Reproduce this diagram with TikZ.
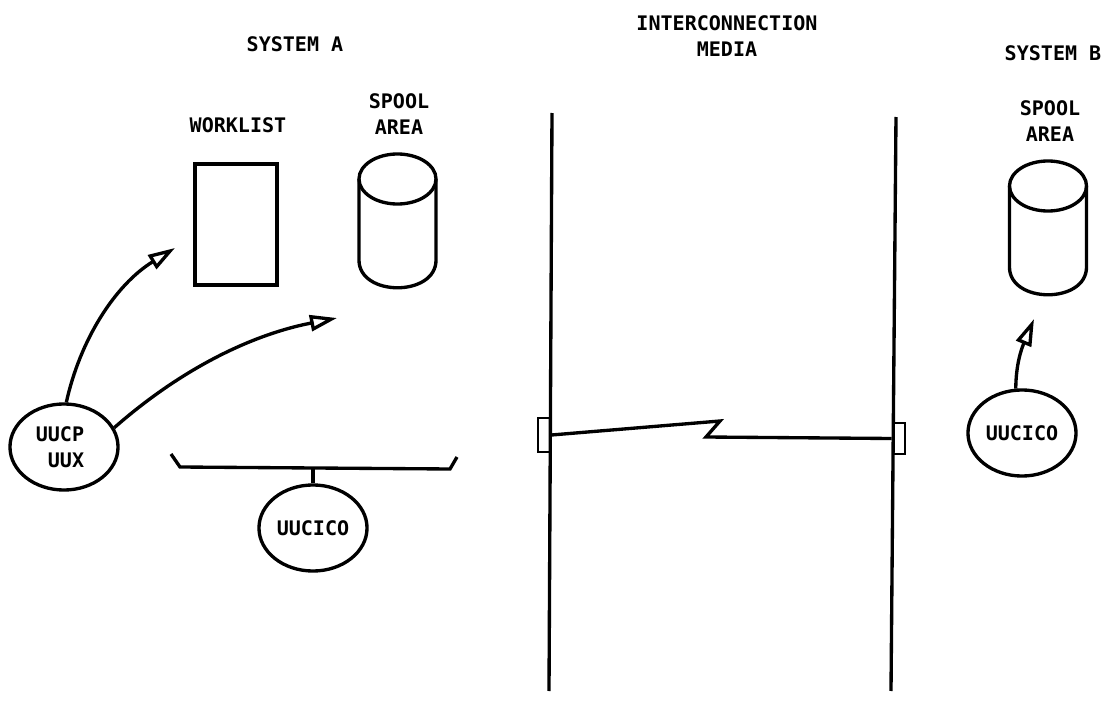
\documentclass[tikz,border=0pt]{standalone}
\usepackage{fontspec}
\setmonofont{DejaVu Sans Mono}
\usetikzlibrary{arrows.meta,positioning,shapes.geometric}
\begin{document}
\begin{tikzpicture}[x=0.01cm,y=-0.01cm,line width=0.95pt,font=\ttfamily\bfseries\fontsize{5.7}{7.5}\selectfont,
  lbl/.style={align=center,inner sep=0pt},
  proc/.style={draw,ellipse,inner sep=0pt,minimum width=1.08cm,minimum height=0.86cm,align=center},
  disktop/.style={draw,ellipse,inner sep=0pt,outer sep=0pt,minimum width=0.77cm,minimum height=0.5cm},
  arr/.style={-{Triangle[open,fill=white,length=2.7mm,width=1.6mm]}}]
  \useasboundingbox (0,0) rectangle (1105,721);
  \node[lbl](sysa) at (295,44){SYSTEM A};
  \node[lbl](media) at (727,36){INTERCONNECTION\\MEDIA};
  \node[lbl](sysb) at (1053,53){SYSTEM B};
  \node[lbl](wl) at (238,125){WORKLIST};
  \node[lbl](spa) at (399,114){SPOOL\\AREA};
  \node[lbl](spb) at (1050,121){SPOOL\\AREA};
  \node[draw,minimum width=0.82cm,minimum height=1.21cm,inner sep=0pt](work) at (236,224.5){};
  \node[disktop](diska) at (397.5,179){};
  \node[disktop](diskb) at (1048,186){};
  \draw (diska.west)--++(0,81) .. controls +(0,37) and +(0,37) .. ([yshift=-0.81cm]diska.east)--(diska.east);
  \draw (diskb.west)--++(0,81) .. controls +(0,37) and +(0,37) .. ([yshift=-0.81cm]diskb.east)--(diskb.east);
  \node[proc](uucp) at (64,447){UUCP\hspace*{.08cm}\\\ UUX\hspace*{.08cm}};
  \node[proc](coa) at (313,528){UUCICO};
  \node[proc](cob) at (1022,433){UUCICO};
  % bus and stem
  \coordinate (b1) at (171,454);
  \coordinate (b2) at (180,467);
  \coordinate (b3) at (450,469);
  \coordinate (b4) at (457,457);
  \coordinate (bm) at (313,468);
  \draw (b1)--(b2)--(b3)--(b4);
  \draw (bm)--(coa.north);
  % arrows
  \coordinate (ta) at (175,248);
  \coordinate (tb) at (337,318);
  \coordinate (tc) at (1034,319);
  \draw[arr](uucp.87) .. controls (80,340) and (115,285) .. (ta);
  \draw[arr](uucp.21) .. controls (180,370) and (250,335) .. (tb);
  \draw[arr](cob.98) .. controls (1016,365) and (1021,350) .. (tc);
  % media
  \coordinate (l1) at (552,113);
  \coordinate (l2) at (549,691);
  \coordinate (r1) at (896,117);
  \coordinate (r2) at (891,691);
  \draw (l1)--(l2);
  \draw (r1)--(r2);
  \node[draw,line width=0.8pt,minimum width=0.12cm,minimum height=0.34cm,inner sep=0pt](pa) at (544,435){};
  \node[draw,line width=0.8pt,minimum width=0.12cm,minimum height=0.31cm,inner sep=0pt](pb) at (899,438.5){};
  \coordinate (z1) at (720,421);
  \coordinate (z2) at (706,437);
  \draw (pa.east)--(z1)--(z2)--(pb.west);
\end{tikzpicture}
\end{document}
